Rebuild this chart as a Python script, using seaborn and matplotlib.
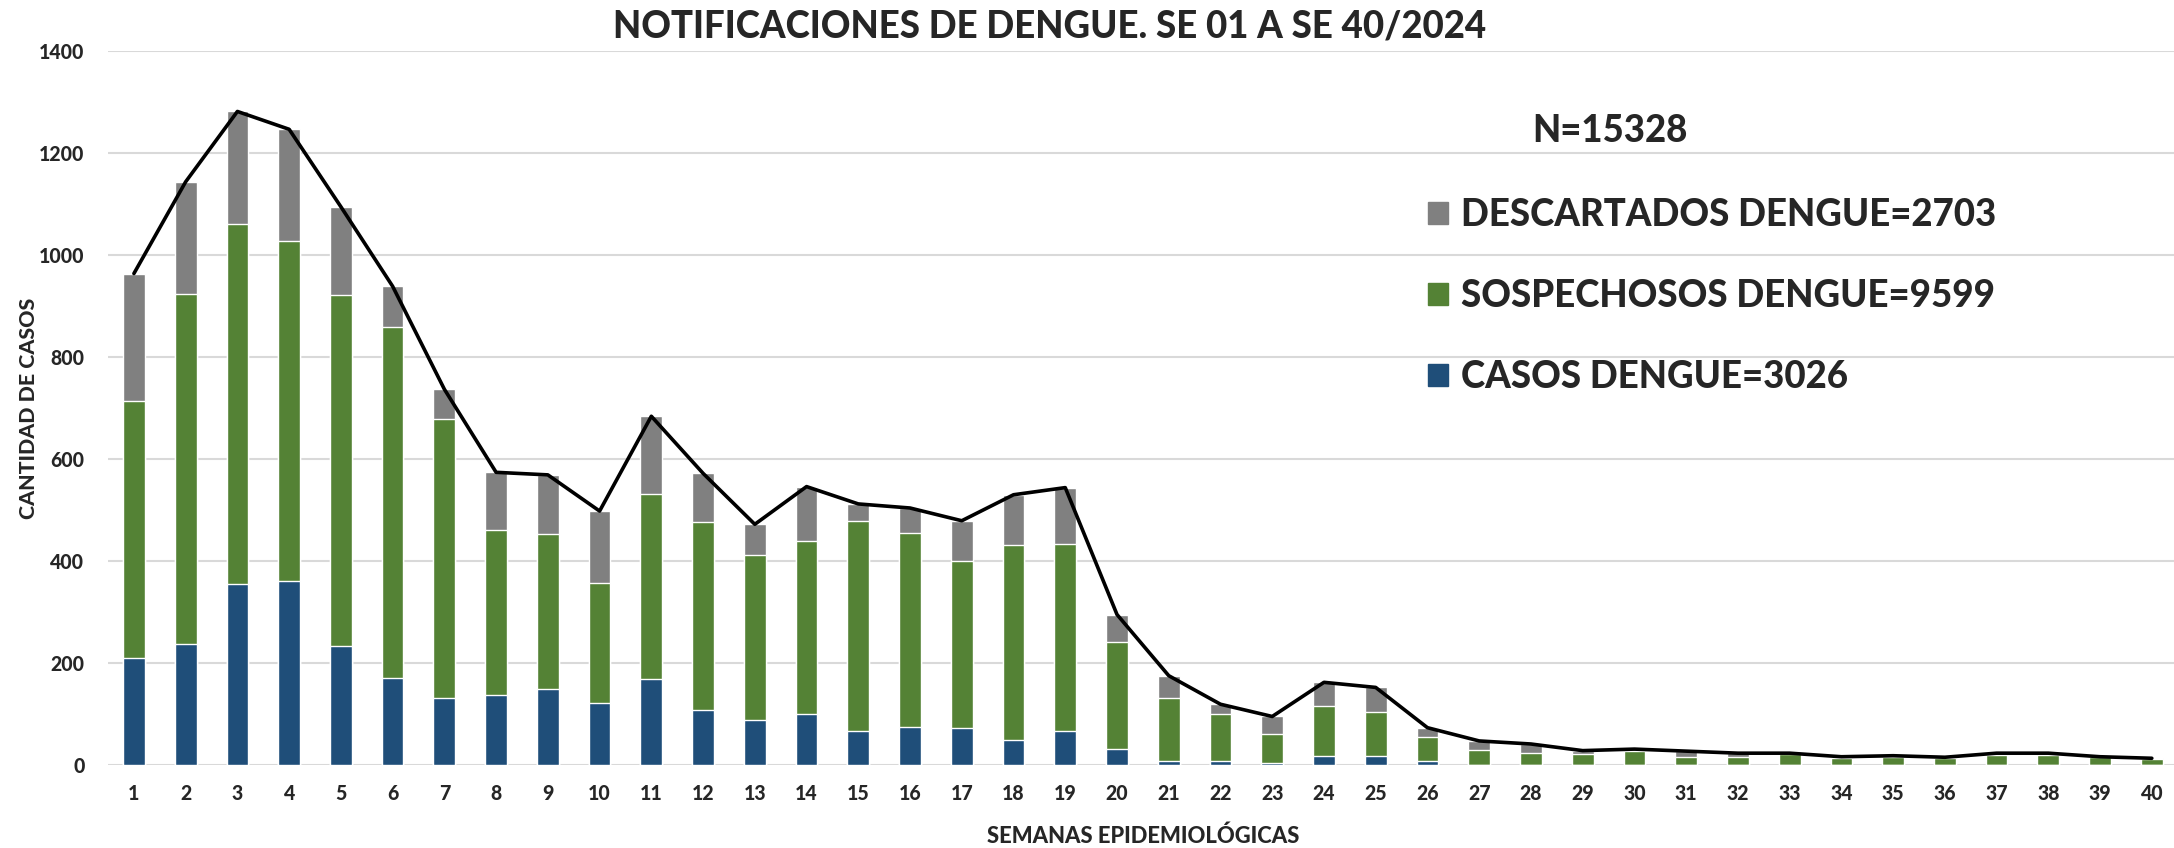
import numpy as np
import pandas as pd
import matplotlib
matplotlib.use("Agg")
import matplotlib.pyplot as plt
import matplotlib.patches as mpatches
from matplotlib import font_manager
import seaborn as sns

# weekly values (SE 01 - SE 40 / 2024)
semanas = [str(i) for i in range(1, 41)]
casos = [210, 237, 355, 361, 233, 170, 132, 138, 149, 121, 168, 107, 89, 99, 66, 74, 73, 48, 66, 31,
         7, 8, 4, 18, 18, 7, 0, 0, 0, 0, 0, 0, 0, 0, 0, 0, 0, 0, 0, 0]
sospechosos = [504, 686, 706, 666, 689, 689, 547, 323, 304, 236, 364, 369, 323, 341, 413, 381, 327, 383, 368, 210,
               125, 91, 57, 98, 86, 47, 30, 24, 21, 28, 15, 16, 21, 13, 16, 13, 20, 20, 15, 12]
descartados = [250, 221, 221, 220, 173, 80, 58, 113, 116, 141, 152, 96, 60, 106, 33, 49, 79, 99, 110, 54,
               43, 20, 34, 46, 48, 19, 17, 17, 7, 3, 12, 7, 2, 3, 2, 2, 3, 3, 1, 1]

etiquetas = ["DESCARTADOS DENGUE=2703", "SOSPECHOSOS DENGUE=9599", "CASOS DENGUE=3026"]
total_n = "N=15328"

colors = {"casos": "#1F4E79", "sosp": "#548235", "desc": "#808080"}

df = pd.DataFrame({"semana": semanas, "casos": casos, "sosp": sospechosos, "desc": descartados})
df["nivel_sosp"] = df["casos"] + df["sosp"]
df["total"] = df["nivel_sosp"] + df["desc"]

# a narrow bold face is closest to the original; fall back to Lato
try:
    font_manager.findfont("Liberation Sans Narrow", fallback_to_default=False)
    fam, k = "Liberation Sans Narrow", 1.0
except Exception:
    fam, k = "Lato", 0.88
W = 900  # heaviest face available

sns.set_style("white")
plt.rcParams["font.family"] = [fam, "DejaVu Sans"]
plt.rcParams["font.weight"] = W

fig = plt.figure(figsize=(21.74, 8.48), dpi=100)
ax = fig.add_axes([0.0497, 0.098, 0.952, 0.8415])

# stacked bars: draw the tallest level first
bw = 0.42
sns.barplot(data=df, x="semana", y="total", color=colors["desc"], width=bw, saturation=1, ax=ax)
sns.barplot(data=df, x="semana", y="nivel_sosp", color=colors["sosp"], width=bw, saturation=1, ax=ax)
sns.barplot(data=df, x="semana", y="casos", color=colors["casos"], width=bw, saturation=1, ax=ax)

# total line
sns.lineplot(x=np.arange(len(df)), y=df["total"].values, color="black", linewidth=2.6, ax=ax)

ax.set_xlim(-0.5, len(df) - 0.5)
ax.set_ylim(0, 1400)
ax.set_yticks(range(0, 1401, 200))
ax.set_xticks(np.arange(len(df)))
ax.set_xticklabels(semanas)
ax.tick_params(axis="both", labelsize=16 * k, length=0)
ax.tick_params(axis="y", pad=17)
ax.tick_params(axis="x", pad=14)
for lab in ax.get_xticklabels() + ax.get_yticklabels():
    lab.set_fontweight(W)

ax.grid(axis="y", color="#D9D9D9", linewidth=1.5)
ax.set_axisbelow(True)
for s in ax.spines.values():
    s.set_visible(False)

ax.set_xlabel("SEMANAS EPIDEMIOLÓGICAS", fontsize=18 * k, fontweight=W, labelpad=16)
ax.set_ylabel("CANTIDAD DE CASOS", fontsize=17.5 * k, fontweight=W)
ax.yaxis.set_label_coords(-0.034, 0.5)

fig.text(0.483, 0.969, "NOTIFICACIONES DE DENGUE. SE 01 A SE 40/2024", ha="center", va="center",
         fontsize=30 * k, fontweight=W)

# legend
fs = 30 * k
fs_px = fs * 100 / 72
top_px = 212 - 0.38 * fs_px
handles = [mpatches.Patch(color=colors["desc"]),
           mpatches.Patch(color=colors["sosp"]),
           mpatches.Patch(color=colors["casos"])]
leg = ax.legend(handles, etiquetas, loc="upper left", bbox_to_anchor=(0.657, 1 - top_px / 848),
                bbox_transform=fig.transFigure, frameon=False, fontsize=fs,
                handlelength=0.55, handleheight=0.55, handletextpad=0.35,
                labelspacing=(80 - 0.9 * fs_px) / fs_px, borderpad=0, borderaxespad=0)
for t in leg.get_texts():
    t.set_fontweight(W)
fig.text(0.7405, 0.845, total_n, ha="center", va="center", fontsize=fs, fontweight=W)

plt.savefig("out.png", dpi=100)
